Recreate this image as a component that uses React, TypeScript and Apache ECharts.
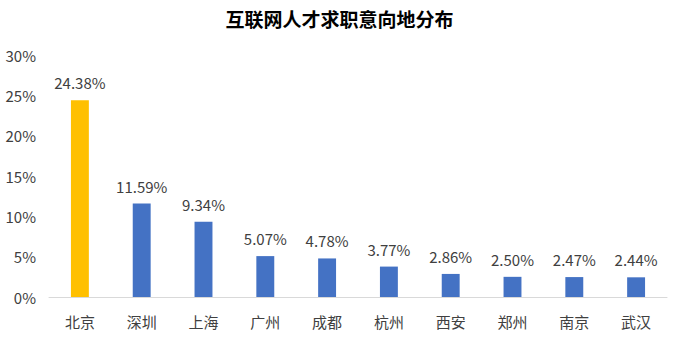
import React, { useEffect, useRef } from "react";
import * as echarts from "echarts";

const categories = ["北京", "深圳", "上海", "广州", "成都", "杭州", "西安", "郑州", "南京", "武汉"];
const values = [24.38, 11.59, 9.34, 5.07, 4.78, 3.77, 2.86, 2.5, 2.47, 2.44];
const highlightIndex = 0;
const title = "互联网人才求职意向地分布";

export default function App() {
  const ref = useRef<HTMLDivElement>(null);
  useEffect(() => {
    if (!ref.current) return;
    const chart = echarts.init(ref.current, null, { renderer: "svg" });
    const font = "'Noto Sans CJK SC', 'Noto Sans', sans-serif";
    chart.setOption({
      animation: false,
      backgroundColor: "#ffffff",
      title: {
        text: title,
        left: "center",
        top: 4,
        textStyle: { fontSize: 19, fontWeight: "bold", color: "#000000", fontFamily: font },
      },
      grid: { left: 49, right: 12, top: 55, bottom: 42, containLabel: false },
      xAxis: {
        type: "category",
        data: categories,
        axisLine: { show: true, lineStyle: { color: "#D9D9D9", width: 1 } },
        axisTick: { show: false },
        axisLabel: { color: "#404040", fontSize: 15, margin: 17, fontFamily: font },
      },
      yAxis: {
        type: "value",
        min: 0,
        max: 30,
        interval: 5,
        splitLine: { show: false },
        axisLine: { show: false },
        axisTick: { show: false },
        axisLabel: {
          color: "#404040",
          fontSize: 15,
          margin: 13,
          fontFamily: font,
          formatter: (v: number) => `${v}%`,
        },
      },
      series: [
        {
          type: "bar",
          data: values.map((v, i) => ({
            value: v,
            itemStyle: { color: i === highlightIndex ? "#FFC000" : "#4472C4" },
          })),
          barWidth: "29%",
          label: {
            show: true,
            position: "top",
            distance: 10,
            color: "#404040",
            fontSize: 15,
            fontFamily: font,
            formatter: (p: any) => `${p.value.toFixed(2)}%`,
          },
        },
      ],
    });
    return () => chart.dispose();
  }, []);
  return <div ref={ref} style={{ width: 679, height: 339, position: "absolute", left: 0, top: 0 }} />;
}
